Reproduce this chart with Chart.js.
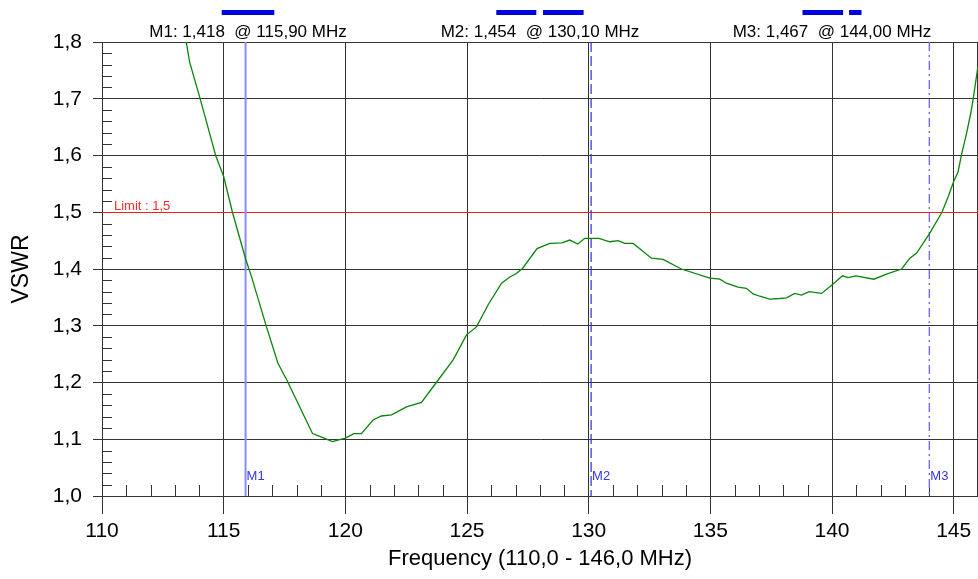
<!DOCTYPE html>
<html>
<head>
<meta charset="utf-8">
<script src="https://cdn.jsdelivr.net/npm/chart.js@4/dist/chart.umd.min.js"></script>
<style>
  html, body { margin: 0; padding: 0; background: #fff; }
  canvas { display: block; }
</style>
</head>
<body>
<canvas id="c" width="978" height="579"></canvas>
<script>
// ---- data ----
const freqMHz = [113.30,113.47,113.60,114.04,114.50,114.67,115.00,115.36,115.90,116.14,116.76,117.23,117.60,117.99,118.65,118.95,119.47,120.00,120.35,120.66,121.14,121.48,121.90,122.51,123.13,123.74,124.43,124.98,125.39,125.87,126.42,126.76,127.03,127.28,127.88,128.40,128.90,129.22,129.55,129.84,130.10,130.42,130.87,131.21,131.48,131.83,132.58,133.06,133.81,134.98,135.39,135.66,136.14,136.48,136.76,137.03,137.44,137.85,138.13,138.47,138.75,139.06,139.57,140.00,140.43,140.66,140.98,141.72,142.24,142.86,143.20,143.48,143.74,144.00,144.52,144.77,145.00,145.18,145.32,145.53,145.70,145.80,146.00];
const vswr = [1.830,1.798,1.765,1.699,1.627,1.600,1.563,1.500,1.418,1.387,1.298,1.234,1.204,1.169,1.110,1.105,1.096,1.102,1.110,1.110,1.134,1.141,1.143,1.157,1.165,1.200,1.240,1.284,1.298,1.337,1.375,1.386,1.392,1.401,1.436,1.445,1.446,1.451,1.444,1.454,1.454,1.454,1.448,1.450,1.445,1.445,1.419,1.417,1.400,1.384,1.382,1.375,1.368,1.366,1.356,1.352,1.347,1.348,1.349,1.357,1.354,1.360,1.357,1.372,1.388,1.385,1.388,1.382,1.391,1.400,1.419,1.428,1.445,1.462,1.500,1.527,1.554,1.571,1.601,1.639,1.674,1.699,1.758];

const xTicks = [110,115,120,125,130,135,140,145];
const yTicks = [1.0,1.1,1.2,1.3,1.4,1.5,1.6,1.7,1.8];
const xMin = 110, xMax = 146, yMin = 1.0, yMax = 1.8;

const limitValue = 1.5;
const limitLabel = 'Limit : 1,5';

const markerNames = ['M1','M2','M3'];
const markerFreqs = [115.90, 130.10, 144.00];
const markerVals  = [1.418, 1.454, 1.467];

const xTitle = 'Frequency (110,0 - 146,0 MHz)';
const yTitle = 'VSWR';

// ---- styles ----
const FONT = '"Liberation Sans", Arial, sans-serif';
const GRID = '#333333';
const markerStyles = [
  { color: '#8a8aff', width: 2,   dash: [] },
  { color: '#2a2ae0', width: 1.2, dash: [10, 4] },
  { color: '#6e6eff', width: 1.4, dash: [9, 4, 2, 4] }
];
// bars drawn above each marker readout, offsets relative to the readout centre (px)
const readoutBars = [
  [[-26.3, 26.3]],
  [[-43.7, -3.7], [3.0, 43.6]],
  [[-29.5, 11.1], [17.1, 29.5]]
];

const comma = (v, d) => v.toFixed(d).replace('.', ',');

const overlay = {
  id: 'overlay',
  beforeDatasetsDraw(chart) {
    const { ctx, chartArea: a, scales: { x, y } } = chart;
    ctx.save();
    // right border
    ctx.strokeStyle = GRID; ctx.lineWidth = 1;
    ctx.beginPath(); ctx.moveTo(a.right - 0.5, a.top); ctx.lineTo(a.right - 0.5, a.bottom); ctx.stroke();
    // minor ticks x
    ctx.beginPath();
    for (let f = xMin + 1; f < xMax; f++) {
      if (f % 5 === 0) continue;
      const px = Math.round(x.getPixelForValue(f)) + 0.5;
      ctx.moveTo(px, a.bottom); ctx.lineTo(px, a.bottom - 11);
    }
    // minor ticks y
    for (let i = 1; i < 40; i++) {
      if (i % 5 === 0) continue;
      const v = yMin + i * 0.02;
      const py = Math.round(y.getPixelForValue(v)) + 0.5;
      ctx.moveTo(a.left, py); ctx.lineTo(a.left + 10, py);
    }
    ctx.stroke();
    // limit line
    const ly = Math.round(y.getPixelForValue(limitValue)) + 0.5;
    ctx.strokeStyle = '#ff1a1a'; ctx.lineWidth = 1;
    ctx.beginPath(); ctx.moveTo(a.left, ly); ctx.lineTo(a.right, ly); ctx.stroke();
    ctx.fillStyle = '#ff2a2a'; ctx.font = '13px ' + FONT; ctx.textAlign = 'left'; ctx.textBaseline = 'alphabetic';
    ctx.fillText(limitLabel, a.left + 12, ly - 3);
    // markers
    markerFreqs.forEach((f, i) => {
      const st = markerStyles[i];
      const px = x.getPixelForValue(f);
      ctx.strokeStyle = st.color; ctx.lineWidth = st.width; ctx.setLineDash(st.dash);
      ctx.beginPath(); ctx.moveTo(px, a.top); ctx.lineTo(px, a.bottom); ctx.stroke();
      ctx.setLineDash([]);
      ctx.fillStyle = '#3535e6'; ctx.font = '13px ' + FONT; ctx.textAlign = 'left';
      ctx.fillText(markerNames[i], px + 1, a.bottom - 16);
    });
    ctx.restore();
  },
  afterDraw(chart) {
    const { ctx, chartArea: a } = chart;
    ctx.save();
    const w = a.right - a.left;
    markerNames.forEach((n, i) => {
      const cx = a.left + w * (2 * i + 1) / 6;
      ctx.fillStyle = '#0000dd';
      readoutBars[i].forEach(([s, e]) => ctx.fillRect(cx + s, 10, e - s, 5));
      ctx.fillStyle = '#000'; ctx.font = '17px ' + FONT; ctx.textAlign = 'center'; ctx.textBaseline = 'alphabetic';
      ctx.fillText(n + ': ' + comma(markerVals[i], 3) + '  @ ' + comma(markerFreqs[i], 2) + ' MHz', cx, 37);
    });
    ctx.restore();
  }
};

new Chart(document.getElementById('c'), {
  type: 'line',
  data: {
    datasets: [{
      data: freqMHz.map((f, i) => ({ x: f, y: vswr[i] })),
      borderColor: '#0a840a',
      borderWidth: 1.3,
      pointRadius: 0,
      tension: 0,
      fill: false
    }]
  },
  options: {
    responsive: false,
    animation: false,
    devicePixelRatio: 1,
    layout: { padding: { top: 42, right: 0, left: 0, bottom: 0 } },
    plugins: { legend: { display: false }, tooltip: { enabled: false } },
    scales: {
      x: {
        type: 'linear', min: xMin, max: xMax,
        afterBuildTicks: s => { s.ticks = xTicks.map(v => ({ value: v })); },
        afterFit: s => { s.height = 83; },
        ticks: { color: '#000', font: { family: FONT, size: 21 }, padding: 5, maxRotation: 0, autoSkip: false, callback: v => String(v) },
        grid: { color: GRID, lineWidth: 1, tickLength: 18, drawTicks: true },
        border: { display: false },
        title: { display: true, text: xTitle, color: '#000', font: { family: FONT, size: 22 }, padding: { top: 0, bottom: 7 } }
      },
      y: {
        type: 'linear', min: yMin, max: yMax,
        afterBuildTicks: s => { s.ticks = yTicks.map(v => ({ value: v })); },
        afterFit: s => { s.width = 102; },
        ticks: { color: '#000', font: { family: FONT, size: 21 }, padding: 11, autoSkip: false, callback: v => comma(v, 1) },
        grid: { color: GRID, lineWidth: 1, tickLength: 9, drawTicks: true },
        border: { display: true, color: GRID },
        title: { display: true, text: yTitle, color: '#000', font: { family: FONT, size: 23 }, padding: { top: 8, bottom: 0 } }
      }
    }
  },
  plugins: [overlay]
});
</script>
</body>
</html>
